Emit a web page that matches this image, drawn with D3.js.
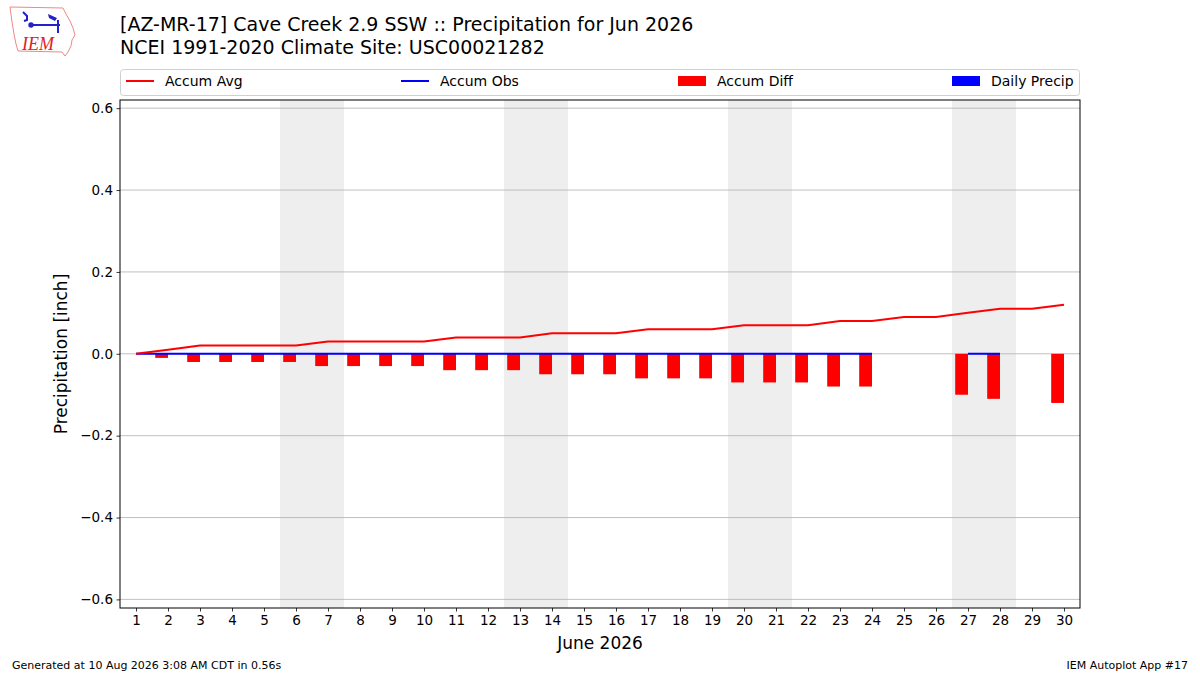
<!DOCTYPE html>
<html>
<head>
<meta charset="utf-8">
<script src="https://cdn.jsdelivr.net/npm/d3@7"></script>
<style>
  body { margin: 0; background: #fff; }
  text { font-family: "DejaVu Sans", sans-serif; }
</style>
</head>
<body>
<div class="chart"></div>
<script>
// data (inches)
const days = d3.range(1, 31);
const accumAvg = [0.00, 0.01, 0.02, 0.02, 0.02, 0.02, 0.03, 0.03, 0.03, 0.03,
                  0.04, 0.04, 0.04, 0.05, 0.05, 0.05, 0.06, 0.06, 0.06, 0.07,
                  0.07, 0.07, 0.08, 0.08, 0.09, 0.09, 0.10, 0.11, 0.11, 0.12];
const accumObs = [0, 0, 0, 0, 0, 0, 0, 0, 0, 0,
                  0, 0, 0, 0, 0, 0, 0, 0, 0, 0,
                  0, 0, 0, 0, null, null, 0, 0, null, null];
const accumDiff = [0.00, -0.01, -0.02, -0.02, -0.02, -0.02, -0.03, -0.03, -0.03, -0.03,
                   -0.04, -0.04, -0.04, -0.05, -0.05, -0.05, -0.06, -0.06, -0.06, -0.07,
                   -0.07, -0.07, -0.08, -0.08, null, null, -0.10, -0.11, null, -0.12];
const dailyPrecip = [0, 0, 0, 0, 0, 0, 0, 0, 0, 0,
                     0, 0, 0, 0, 0, 0, 0, 0, 0, 0,
                     0, 0, 0, 0, null, null, 0, 0, null, null];
const weekends = [[6, 7], [13, 14], [20, 21], [27, 28]];
const yTicks = [-0.6, -0.4, -0.2, 0.0, 0.2, 0.4, 0.6];

const titleLines = ["[AZ-MR-17] Cave Creek 2.9 SSW :: Precipitation for Jun 2026",
                    "NCEI 1991-2020 Climate Site: USC00021282"];

// dimensions
const width = 1200;
const height = 675;
const margin = {top: 100, right: 120, bottom: 67, left: 120};
const innerWidth = width - margin.left - margin.right;
const innerHeight = height - margin.top - margin.bottom;

const svg = d3.select(".chart")
  .append("svg")
    .attr("width", width)
    .attr("height", height);

// logo (decorative)
const logo = svg.append("g");
logo.append("path")
  .attr("d", "M10,7 L63,8 L66,14 L70,21 L73,28 L75,35 L72,40 L71,46 L68,52 L65,56 L62,52 L18,51 L16,44 L14,34 L12,22 Z")
  .attr("fill", "none")
  .attr("stroke", "#e88")
  .attr("stroke-width", 1);
logo.append("path")
  .attr("d", "M31,25 L60,25 M58,20 L58,33 M23,12 L27,16 L27,20 L24,21")
  .attr("stroke", "#22c")
  .attr("stroke-width", 2)
  .attr("fill", "none");
logo.append("path")
  .attr("d", "M48,14 L57,18 L55,21 L49,18 Z")
  .attr("fill", "#22c");
logo.append("circle").attr("cx", 31).attr("cy", 25).attr("r", 2.7).attr("fill", "#22c");
logo.append("text")
  .attr("x", 22).attr("y", 50)
  .style("font-family", "'Liberation Serif', serif")
  .style("font-style", "italic")
  .style("font-size", "18px")
  .attr("fill", "#d22")
  .text("IEM");

// title
svg.selectAll(".title")
  .data(titleLines)
  .enter()
  .append("text")
    .attr("class", "title")
    .attr("x", 120)
    .attr("y", (d, i) => 31 + i * 23)
    .style("font-size", "19px")
    .attr("fill", "#000")
    .text(d => d);

const g = svg.append("g")
  .attr("transform", `translate(${margin.left}, ${margin.top})`);

// scales
const x = d3.scaleLinear()
  .domain([0.5, 30.5])
  .range([0, innerWidth]);

const y = d3.scaleLinear()
  .domain([-0.621, 0.62])
  .range([innerHeight, 0]);

const step = x(2) - x(1);

// weekend shading
g.selectAll(".weekend")
  .data(weekends)
  .enter()
  .append("rect")
    .attr("x", d => x(d[0] - 0.5))
    .attr("y", 0)
    .attr("width", d => x(d[1] + 0.5) - x(d[0] - 0.5))
    .attr("height", innerHeight)
    .attr("fill", "#eeeeee");

// grid
g.selectAll(".grid")
  .data(yTicks)
  .enter()
  .append("line")
    .attr("x1", 0)
    .attr("x2", innerWidth)
    .attr("y1", d => y(d))
    .attr("y2", d => y(d))
    .attr("stroke", "#b0b0b0")
    .attr("stroke-width", 0.8);

// daily precip bars
g.selectAll(".daily")
  .data(days.filter((d, i) => dailyPrecip[i] != null))
  .enter()
  .append("rect")
    .attr("x", d => x(d - 0.4))
    .attr("y", d => y(Math.max(0, dailyPrecip[d - 1])))
    .attr("width", step * 0.8)
    .attr("height", d => Math.abs(y(dailyPrecip[d - 1]) - y(0)))
    .attr("fill", "blue");

// accum diff bars (edge aligned, left of the day)
g.selectAll(".diff")
  .data(days.filter((d, i) => accumDiff[i] != null))
  .enter()
  .append("rect")
    .attr("x", d => x(d - 0.4))
    .attr("y", d => y(Math.max(0, accumDiff[d - 1])))
    .attr("width", step * 0.4)
    .attr("height", d => Math.abs(y(accumDiff[d - 1]) - y(0)))
    .attr("fill", "red");

// accum obs line
const lineObs = d3.line()
  .defined((d, i) => accumObs[i] != null)
  .x(d => x(d))
  .y((d, i) => y(accumObs[i]));

g.append("path")
  .datum(days)
  .attr("d", lineObs)
  .attr("fill", "none")
  .attr("stroke", "blue")
  .attr("stroke-width", 2);

// accum avg line
const lineAvg = d3.line()
  .x(d => x(d))
  .y((d, i) => y(accumAvg[i]));

g.append("path")
  .datum(days)
  .attr("d", lineAvg)
  .attr("fill", "none")
  .attr("stroke", "red")
  .attr("stroke-width", 2);

// axes
const xAxis = g.append("g")
  .attr("transform", `translate(0, ${innerHeight})`)
  .call(d3.axisBottom(x).tickValues(days).tickFormat(d3.format("d")).tickSize(3.5).tickPadding(3.5).tickSizeOuter(0));

const yAxis = g.append("g")
  .call(d3.axisLeft(y).tickValues(yTicks).tickFormat(d3.format(".1f")).tickSize(3.5).tickPadding(3.5).tickSizeOuter(0));

[xAxis, yAxis].forEach(a => {
  a.select(".domain").remove();
  a.selectAll("text").style("font-size", "13.5px").style("font-family", "'DejaVu Sans', sans-serif").attr("fill", "#000");
  a.selectAll("line").attr("stroke", "#000").attr("stroke-width", 0.8);
});

// frame
g.append("rect")
  .attr("width", innerWidth)
  .attr("height", innerHeight)
  .attr("fill", "none")
  .attr("stroke", "#000")
  .attr("stroke-width", 1);

// axis labels
svg.append("text")
  .attr("x", margin.left + innerWidth / 2)
  .attr("y", 649)
  .attr("text-anchor", "middle")
  .style("font-size", "17px")
  .text("June 2026");

svg.append("text")
  .attr("transform", `translate(67, ${margin.top + innerHeight / 2}) rotate(-90)`)
  .attr("text-anchor", "middle")
  .style("font-size", "17px")
  .text("Precipitation [inch]");

// legend
const legendItems = [
  {label: "Accum Avg", type: "line", color: "red", x: 126},
  {label: "Accum Obs", type: "line", color: "blue", x: 401},
  {label: "Accum Diff", type: "patch", color: "red", x: 678},
  {label: "Daily Precip", type: "patch", color: "blue", x: 952}
];

const legend = svg.append("g");
legend.append("rect")
  .attr("x", 120.5).attr("y", 69.5)
  .attr("width", 959).attr("height", 26)
  .attr("rx", 3)
  .attr("fill", "#fff")
  .attr("fill-opacity", 0.8)
  .attr("stroke", "#d0d0d0");

const li = legend.selectAll(".item")
  .data(legendItems)
  .enter()
  .append("g")
    .attr("transform", d => `translate(${d.x}, 81)`);

li.filter(d => d.type === "line")
  .append("line")
    .attr("x1", 0).attr("x2", 28)
    .attr("stroke", d => d.color)
    .attr("stroke-width", 2);

li.filter(d => d.type === "patch")
  .append("rect")
    .attr("x", 0).attr("y", -5)
    .attr("width", 28).attr("height", 10)
    .attr("fill", d => d.color);

li.append("text")
  .attr("x", 39)
  .attr("y", 5)
  .style("font-size", "14px")
  .text(d => d.label);

// footer
svg.append("text")
  .attr("x", 12).attr("y", 669)
  .style("font-size", "11px")
  .text("Generated at 10 Aug 2026 3:08 AM CDT in 0.56s");

svg.append("text")
  .attr("x", 1188).attr("y", 669)
  .attr("text-anchor", "end")
  .style("font-size", "11px")
  .text("IEM Autoplot App #17");
</script>
</body>
</html>
